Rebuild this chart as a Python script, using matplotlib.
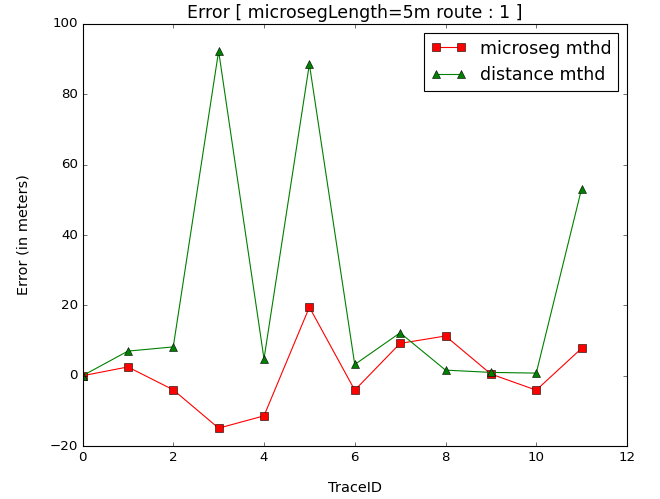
import matplotlib
matplotlib.use('Agg')
import matplotlib.pyplot as plt

plt.style.use('classic')
plt.rcParams['font.size'] = 13
plt.rcParams['xtick.labelsize'] = 12
plt.rcParams['ytick.labelsize'] = 12

trace_ids = list(range(12))
microseg = [0, 2.5, -4.0, -14.9, -11.4, 19.5, -4.1, 9.2, 11.3, 0.5, -4.1, 7.8]
distance = [0, 7.0, 8.2, 92.3, 4.8, 88.6, 3.2, 12.2, 1.6, 0.95, 0.75, 53.2]

fig = plt.figure(figsize=(8.25, 6.2375), dpi=80)
ax = fig.add_subplot(111)
fig.subplots_adjust(left=0.125, right=0.95, top=0.952, bottom=0.106)

ax.plot(trace_ids, microseg, 'rs-', markersize=7, label='microseg mthd')
ax.plot(trace_ids, distance, 'g^-', markersize=7, label='distance mthd')

ax.set_xlim(0, 12)
ax.set_ylim(-20, 100)
ax.set_title('Error [ microsegLength=5m route : 1 ]')
ax.set_xlabel('TraceID', labelpad=16)
ax.set_ylabel('Error (in meters)', labelpad=17)
ax.legend(loc='upper right')

fig.savefig('out.png', dpi=80)
